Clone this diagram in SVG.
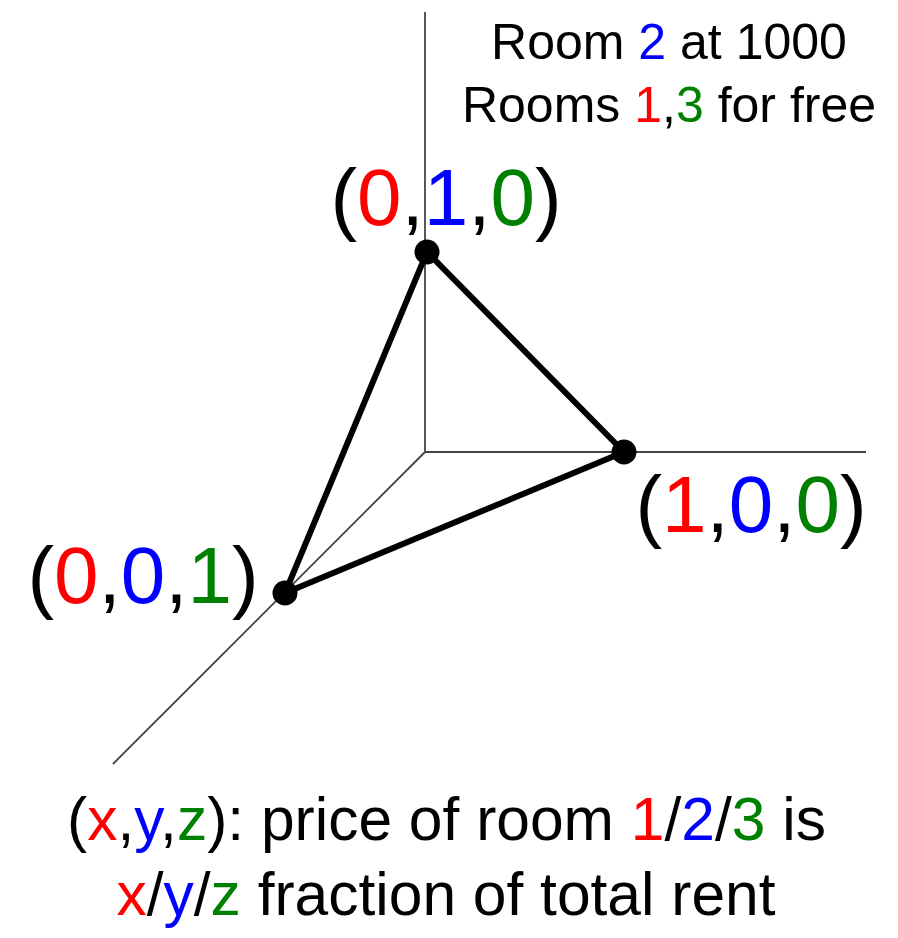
<svg xmlns="http://www.w3.org/2000/svg" width="898" height="938" viewBox="0 0 898 938">
<style>
text{font-family:"Liberation Sans",Arial,sans-serif;fill:#000}
.r{fill:#ff0000}.b{fill:#0000ff}.g{fill:#008000}
.axis{stroke:#444;stroke-width:1.8;fill:none}
.edge{stroke:#000;stroke-width:6;fill:none;stroke-linecap:round}
.dot{fill:#000}
.big{font-size:80px}
.mid{font-size:50px}
.low{font-size:60.5px}
</style>
<rect width="898" height="938" fill="#fff"/>
<g id="axes">
<line class="axis" x1="425" y1="12" x2="425" y2="452"/>
<line class="axis" x1="425" y1="452" x2="866" y2="452"/>
<line class="axis" x1="425" y1="452" x2="113" y2="764"/>
</g>
<g id="connectors">
<line class="edge" x1="427" y1="252" x2="624" y2="452"/>
<line class="edge" x1="624" y1="452" x2="285" y2="593"/>
<line class="edge" x1="285" y1="593" x2="427" y2="252"/>
</g>
<g id="node-010">
<circle class="dot" cx="427" cy="252" r="12.5"/>
<text class="big" x="446" y="225" text-anchor="middle">(<tspan class="r">0</tspan>,<tspan class="b">1</tspan>,<tspan class="g">0</tspan>)</text>
</g>
<g id="node-100">
<circle class="dot" cx="624" cy="452" r="12.5"/>
<text class="big" x="751" y="532" text-anchor="middle">(<tspan class="r">1</tspan>,<tspan class="b">0</tspan>,<tspan class="g">0</tspan>)</text>
</g>
<g id="node-001">
<circle class="dot" cx="285" cy="593" r="12.5"/>
<text class="big" x="143" y="603" text-anchor="middle">(<tspan class="r">0</tspan>,<tspan class="b">0</tspan>,<tspan class="g">1</tspan>)</text>
</g>
<g id="note">
<text class="mid" x="669" y="59" text-anchor="middle">Room <tspan class="b">2</tspan> at 1000</text>
<text class="mid" x="669" y="122" text-anchor="middle">Rooms <tspan class="r">1</tspan>,<tspan class="g">3</tspan> for free</text>
</g>
<g id="legend">
<text class="low" x="446.5" y="840" text-anchor="middle">(<tspan class="r">x</tspan>,<tspan class="b">y</tspan>,<tspan class="g">z</tspan>): price of room <tspan class="r">1</tspan>/<tspan class="b">2</tspan>/<tspan class="g">3</tspan> is</text>
<text class="low" x="446" y="915" text-anchor="middle"><tspan class="r">x</tspan>/<tspan class="b">y</tspan>/<tspan class="g">z</tspan> fraction of total rent</text>
</g>
</svg>
